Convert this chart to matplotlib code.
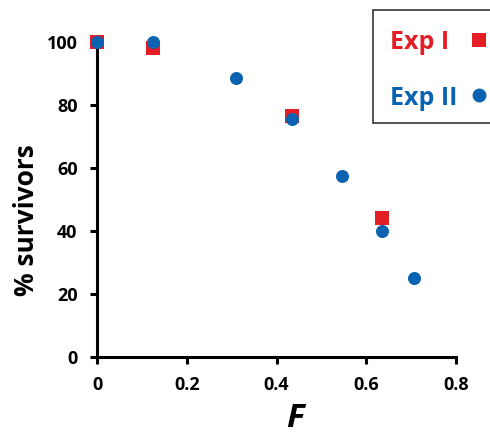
import matplotlib.pyplot as plt
from matplotlib.lines import Line2D
from matplotlib.patches import Rectangle

plt.rcParams['font.family'] = ['Open Sans', 'DejaVu Sans']

exp1_f = [0, 0.125, 0.435, 0.635]
exp1_surv = [100, 98, 76.5, 44]
exp2_f = [0, 0.125, 0.31, 0.435, 0.545, 0.635, 0.705]
exp2_surv = [100, 100, 88.5, 75.5, 57.5, 40, 25]
labels = ['Exp I', 'Exp II']

red = '#e31e24'
blue = '#0a62b0'

fig = plt.figure(figsize=(4.9, 4.38), dpi=100)
ax = fig.add_axes([0.198, 0.185, 0.733, 0.719])

ax.scatter(exp1_f, exp1_surv, marker='s', s=88, color=red, clip_on=False, zorder=3, linewidths=0)
ax.scatter(exp2_f, exp2_surv, marker='o', s=88, color=blue, clip_on=False, zorder=4, linewidths=0)

ax.set_xlim(0, 0.8)
ax.set_ylim(0, 100)
ax.set_xticks([0, 0.2, 0.4, 0.6, 0.8])
ax.set_xticklabels(['0', '0.2', '0.4', '0.6', '0.8'])
ax.set_yticks([0, 20, 40, 60, 80, 100])
for s in ['top', 'right']:
    ax.spines[s].set_visible(False)
for s in ['left', 'bottom']:
    ax.spines[s].set_linewidth(2.2)
ax.tick_params(direction='out', width=2.2, length=5, labelsize=13)
ax.tick_params(axis='x', pad=9)
ax.tick_params(axis='y', pad=9)
for lab in ax.get_xticklabels() + ax.get_yticklabels():
    lab.set_fontweight('bold')

ax.set_xlabel('F', fontsize=24, fontweight='bold', style='italic')
ax.xaxis.set_label_coords(0.55, -0.142)
ax.set_ylabel('% survivors', fontsize=19, fontweight='bold')
ax.yaxis.set_label_coords(-0.16, 0.435)

# legend box drawn by hand so the labels stay left aligned and the markers right aligned
fig.add_artist(Rectangle((0.761, 0.719), 0.3, 0.258, transform=fig.transFigure,
                         facecolor='white', edgecolor='#444444', linewidth=1.3))
fig.text(0.796, 0.888, labels[0], color=red, fontsize=18, fontweight='bold', va='baseline')
fig.text(0.796, 0.760, labels[1], color=blue, fontsize=18, fontweight='bold', va='baseline')
fig.add_artist(Line2D([0.977], [0.909], transform=fig.transFigure, marker='s', markersize=9.5,
                      color=red, markeredgewidth=0, linestyle='none'))
fig.add_artist(Line2D([0.977], [0.783], transform=fig.transFigure, marker='o', markersize=10,
                      color=blue, markeredgewidth=0, linestyle='none'))

fig.savefig('out.png', dpi=100)
